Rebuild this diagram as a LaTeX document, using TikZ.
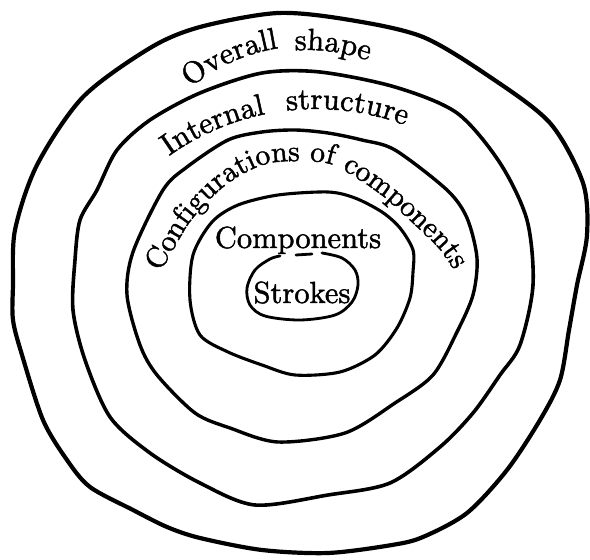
\documentclass[tikz,border=0pt]{standalone}
\usepackage{fontspec}
\usetikzlibrary{decorations.text}
\newfontfamily\heavyfont{lmroman10-regular.otf}[FakeBold=1.5]
\newcommand\lblfont{\heavyfont\fontsize{30.5}{37}\selectfont}
\newcommand\cfgfont{\heavyfont\fontsize{29.5}{35}\selectfont}
\begin{document}
\begin{tikzpicture}[x=1pt,y=1pt,
  ring/.style={line width=#1, line join=round, line cap=round},
  flatlbl/.style={inner sep=0pt, anchor=base, font=\lblfont}]
\useasboundingbox (0,0) rectangle (590,560);
% outer loop
\draw[ring=4.2pt] plot[smooth cycle, tension=0.5] coordinates {
 (150,512) (200,533) (278,547) (350,540) (423,523) (490,483) (550,437) (583,377)
 (587,325) (577,275) (569,230) (560,180) (540,140) (507,90) (467,47) (423,23)
 (392,15) (328,7) (262,10) (200,22) (167,33) (133,50) (90,73) (67,100) (43,140)
 (22,205) (13,240) (13,275) (15,330) (37,395) (83,463)};
% second loop
\draw[ring=3.6pt] plot[smooth cycle, tension=0.5] coordinates {
 (97,370) (117,410) (150,440) (200,467) (262,487) (320,488) (395,473) (457,447)
 (500,397) (527,340) (533,275) (520,215) (500,185) (473,147) (440,113) (390,77)
 (328,65) (255,55) (200,77) (150,107) (110,143) (85,200) (73,250) (75,300) (80,340)};
% third loop
\draw[ring=3.4pt] plot[smooth cycle, tension=0.5] coordinates {
 (163,370) (187,393) (228,420) (262,428) (295,430) (328,427) (362,420) (395,410)
 (447,370) (467,342) (477,302) (473,265) (457,228) (433,185) (395,157) (345,127)
 (278,118) (230,132) (195,147) (157,185) (140,215) (127,265) (133,308)};
% fourth loop
\draw[ring=3.1pt] plot[smooth cycle, tension=0.5] coordinates {
 (212,338) (238,355) (278,365) (328,368) (355,362) (382,348) (400,332) (413,310)
 (413,288) (410,262) (397,232) (375,205) (340,188) (295,185) (262,195) (228,208)
 (200,225) (190,260) (193,305)};
% strokes loop (open at the top)
\draw[ring=2.8pt] plot[smooth, tension=0.55] coordinates {
 (322,307) (342,302) (355,290) (358,275) (352,258) (335,245) (300,240) (265,244)
 (250,255) (247,272) (255,290) (270,301) (280,304)};
\draw[ring=2.8pt] (296,305) -- (312,306);
% curved labels
\path[decorate, decoration={text along path, text align=center,
  text={|\lblfont|Overall}}]
  (307,329) ++(134:185) arc[start angle=134, end angle=94, radius=185];
\path[decorate, decoration={text along path, text align=center,
  text={|\lblfont|shape}}]
  (307,329) ++(100:181) arc[start angle=100, end angle=64, radius=181];
\path[decorate, decoration={text along path, text align=center,
  text={|\lblfont|Internal}}]
  (316,198) ++(128.5:253) arc[start angle=128.5, end angle=98.5, radius=253];
\path[decorate, decoration={text along path, text align=center,
  text={|\lblfont|structure}}]
  (316,198) ++(100:253) arc[start angle=100, end angle=66, radius=253];
\path[decorate, decoration={text along path,
  text={|\cfgfont|Configurations of components}}]
  plot[smooth, tension=0.55] coordinates {
 (160,288) (176,315) (190,338) (212,363) (236,382) (266,396) (300,399) (330,396)
 (355,383) (385,362) (418,332) (440,310) (460,280) (470,255)};
% straight labels
\node[flatlbl] (comp) at (298,312) {Components};
\node[flatlbl] (strk) at (302,257) {Strokes};
\end{tikzpicture}
\end{document}
